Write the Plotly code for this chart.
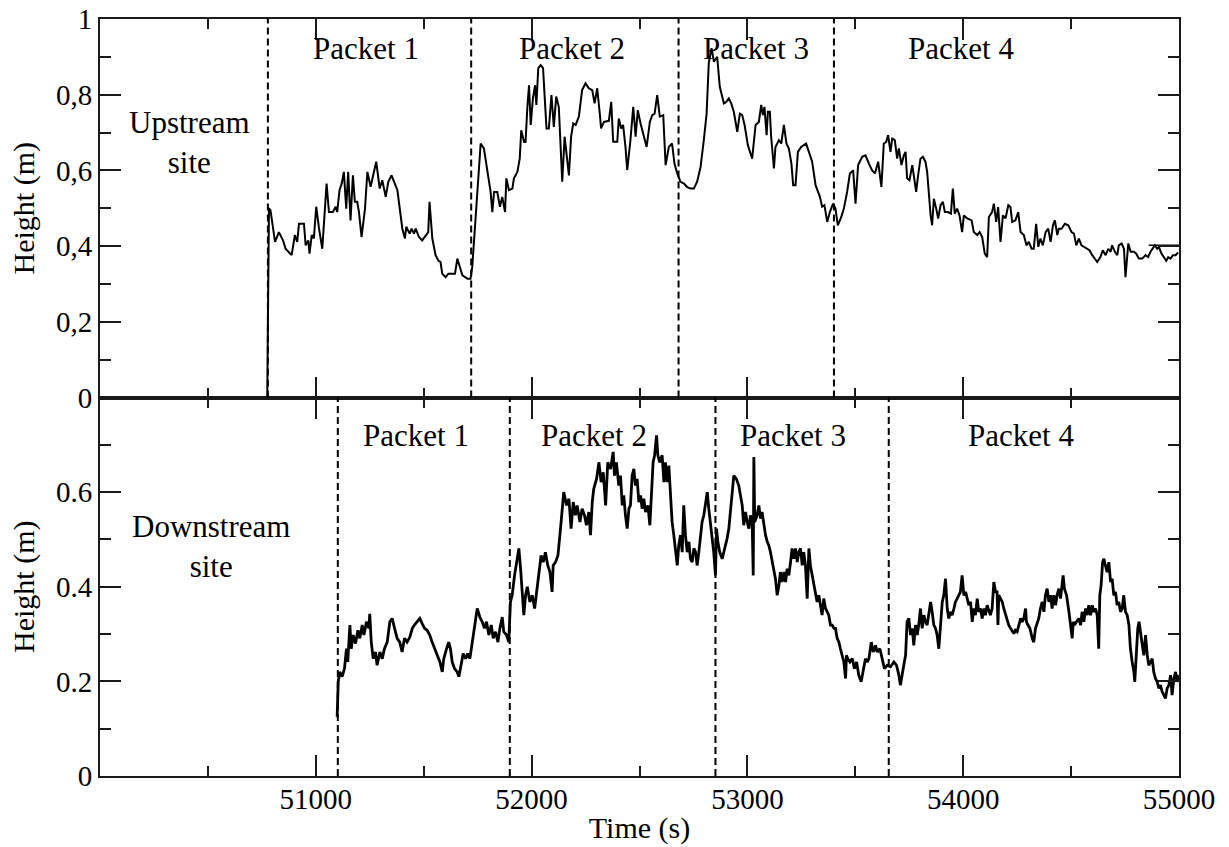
import plotly.graph_objects as go

# ---------------- data ----------------
# Upstream site: time (s) and water height (m)
up_time_a = [50775, 50783, 50790, 50811, 50829, 50848, 50860, 50888, 50903, 50914,
             50922, 50945, 50953, 50965, 50971, 50981, 50991, 51002, 51015, 51030,
             51050, 51061, 51079, 51092, 51099, 51110, 51120, 51130, 51141, 51150,
             51161, 51172, 51181, 51192, 51200, 51212, 51228, 51239, 51254, 51265,
             51280, 51296, 51308, 51324, 51336, 51351, 51367, 51378, 51401, 51413,
             51419, 51435, 51444, 51455, 51463, 51478, 51493, 51509, 51521, 51527,
             51540, 51555, 51568, 51578, 51586, 51602, 51614, 51633, 51645, 51656,
             51666, 51679, 51702, 51717, 51725, 51741, 51753, 51764, 51779, 51795,
             51810, 51818, 51826, 51841, 51853, 51864, 51877, 51883, 51895, 51911,
             51918, 51926, 51934, 51945, 51952, 51965, 51972, 51980, 51988, 51996,
             52006, 52016, 52022, 52031, 52042, 52053]
up_height_a = [0.000, 0.500, 0.495, 0.411, 0.437, 0.415, 0.393, 0.376, 0.429, 0.411,
               0.459, 0.459, 0.402, 0.415, 0.380, 0.429, 0.420, 0.504, 0.446, 0.393,
               0.565, 0.490, 0.490, 0.504, 0.490, 0.548, 0.565, 0.596, 0.499, 0.596,
               0.468, 0.587, 0.517, 0.517, 0.490, 0.424, 0.499, 0.596, 0.557, 0.587,
               0.623, 0.552, 0.574, 0.530, 0.570, 0.587, 0.561, 0.548, 0.446, 0.420,
               0.451, 0.433, 0.446, 0.433, 0.446, 0.424, 0.415, 0.429, 0.437, 0.517,
               0.420, 0.376, 0.362, 0.358, 0.327, 0.318, 0.327, 0.327, 0.327, 0.367,
               0.345, 0.323, 0.314, 0.314, 0.345, 0.482, 0.587, 0.671, 0.658, 0.596,
               0.543, 0.490, 0.543, 0.543, 0.504, 0.530, 0.490, 0.579, 0.548, 0.552,
               0.579, 0.587, 0.596, 0.631, 0.706, 0.675, 0.675, 0.764, 0.825, 0.720,
               0.790, 0.825, 0.773, 0.870, 0.878, 0.870]

up_time_b = [52069, 52080, 52092, 52103, 52114, 52126, 52142, 52153, 52162, 52173,
             52183, 52193, 52204, 52219, 52234, 52250, 52265, 52281, 52292, 52304,
             52316, 52322, 52335, 52358, 52369, 52378, 52397, 52404, 52415, 52424,
             52435, 52443, 52458, 52471, 52482, 52492, 52505, 52517, 52533, 52548,
             52559, 52570, 52582, 52594, 52610, 52621, 52636, 52651, 52662, 52675,
             52690, 52706, 52721, 52736, 52752, 52767, 52783, 52798, 52811, 52821,
             52834, 52845]
up_height_b = [0.711, 0.711, 0.799, 0.715, 0.795, 0.768, 0.570, 0.689, 0.645, 0.587,
               0.689, 0.724, 0.720, 0.742, 0.812, 0.830, 0.817, 0.812, 0.777, 0.817,
               0.750, 0.711, 0.728, 0.731, 0.781, 0.676, 0.676, 0.737, 0.711, 0.720,
               0.662, 0.601, 0.680, 0.768, 0.689, 0.759, 0.724, 0.698, 0.662, 0.728,
               0.746, 0.750, 0.799, 0.742, 0.746, 0.614, 0.662, 0.671, 0.618, 0.592,
               0.570, 0.565, 0.556, 0.552, 0.552, 0.570, 0.609, 0.680, 0.750, 0.883,
               0.923, 0.887]

up_time_c = [52860, 52872, 52891, 52902, 52914, 52925, 52937, 52953, 52965, 52976,
             52987, 53002, 53022, 53038, 53053, 53064, 53072, 53079, 53089, 53095,
             53104, 53110, 53123, 53130, 53146, 53157, 53169, 53181, 53192, 53204,
             53212, 53223, 53234, 53249, 53272, 53285, 53300, 53316, 53336, 53346,
             53357, 53370, 53382, 53397, 53408, 53419, 53435, 53447, 53462, 53475,
             53490, 53501, 53513, 53532]
up_height_c = [0.900, 0.821, 0.777, 0.781, 0.790, 0.777, 0.755, 0.702, 0.750, 0.746,
               0.720, 0.667, 0.631, 0.720, 0.728, 0.773, 0.746, 0.768, 0.693, 0.755,
               0.755, 0.689, 0.605, 0.662, 0.680, 0.671, 0.720, 0.671, 0.658, 0.618,
               0.561, 0.561, 0.649, 0.662, 0.671, 0.649, 0.623, 0.561, 0.530, 0.504,
               0.508, 0.464, 0.490, 0.512, 0.499, 0.455, 0.477, 0.499, 0.543, 0.592,
               0.600, 0.512, 0.614, 0.636]

up_time_d = [53547, 53563, 53578, 53591, 53606, 53621, 53632, 53643, 53652, 53663,
             53671, 53683, 53694, 53702, 53714, 53725, 53733, 53740, 53751, 53764,
             53776, 53782, 53791, 53802, 53813, 53825, 53833, 53841, 53849, 53856,
             53864, 53875, 53884, 53895, 53906, 53915, 53930, 53943, 53952, 53961,
             53972, 53983, 53995, 54003, 54019, 54039, 54049, 54065, 54076, 54088,
             54100, 54111, 54119, 54134, 54142, 54153, 54162, 54173, 54184, 54196,
             54209, 54219, 54227, 54242, 54255, 54266, 54281, 54293, 54304, 54317,
             54327, 54338, 54348, 54358, 54369, 54382, 54394, 54405, 54416, 54425,
             54436, 54443, 54456, 54471, 54487, 54502, 54513, 54524, 54536, 54548,
             54559, 54575, 54585, 54598, 54610, 54621, 54636, 54647, 54660, 54672,
             54683, 54690, 54703, 54714, 54721, 54734, 54745, 54752, 54765, 54776,
             54791, 54802, 54814, 54830, 54845, 54857, 54868, 54879, 54888, 54899,
             54907, 54919, 54930, 54941, 54950, 54961, 54972, 54984, 54996]
up_height_d = [0.640, 0.618, 0.600, 0.592, 0.623, 0.556, 0.671, 0.675, 0.693, 0.649,
               0.684, 0.680, 0.631, 0.658, 0.614, 0.640, 0.649, 0.579, 0.574, 0.614,
               0.561, 0.543, 0.587, 0.631, 0.636, 0.623, 0.596, 0.534, 0.481, 0.455,
               0.525, 0.499, 0.473, 0.508, 0.517, 0.490, 0.490, 0.486, 0.552, 0.486,
               0.499, 0.481, 0.437, 0.481, 0.473, 0.468, 0.437, 0.429, 0.437, 0.424,
               0.380, 0.371, 0.477, 0.490, 0.512, 0.464, 0.503, 0.411, 0.481, 0.473,
               0.508, 0.503, 0.464, 0.468, 0.490, 0.437, 0.429, 0.402, 0.411, 0.393,
               0.393, 0.459, 0.398, 0.420, 0.402, 0.437, 0.446, 0.411, 0.455, 0.468,
               0.429, 0.446, 0.446, 0.459, 0.455, 0.437, 0.433, 0.402, 0.420, 0.402,
               0.398, 0.393, 0.389, 0.376, 0.367, 0.358, 0.371, 0.389, 0.376, 0.393,
               0.385, 0.402, 0.385, 0.376, 0.402, 0.407, 0.393, 0.318, 0.407, 0.385,
               0.385, 0.380, 0.367, 0.367, 0.376, 0.371, 0.385, 0.393, 0.402, 0.393,
               0.398, 0.380, 0.371, 0.361, 0.371, 0.367, 0.376, 0.376, 0.383]

# Downstream site: time (s) and water height (m)
dn_time_a = [51099, 51104, 51111, 51122, 51133, 51142, 51148, 51158, 51164, 51173,
             51184, 51195, 51204, 51215, 51223, 51235, 51246, 51250, 51257, 51266,
             51277, 51284, 51297, 51308, 51318, 51331, 51343, 51354, 51365, 51377,
             51389, 51400, 51411, 51423, 51436, 51447, 51457, 51470, 51482, 51493,
             51504, 51516, 51528, 51539, 51550, 51562, 51575, 51586, 51593, 51606,
             51616, 51624, 51632, 51643, 51655, 51663, 51674, 51683, 51694, 51704,
             51714, 51725, 51735, 51748, 51760, 51771, 51782, 51791, 51802, 51813,
             51822, 51833, 51844, 51853, 51864, 51871, 51884, 51894, 51902, 51910,
             51921, 51930, 51941, 51949, 51956, 51964, 51972, 51980, 51992, 52003,
             52014, 52023, 52034, 52044, 52054, 52064, 52075, 52085, 52095, 52100,
             52111, 52122, 52134, 52142, 52149, 52162, 52173, 52183, 52193, 52203,
             52211, 52224, 52234, 52245, 52254, 52265, 52273, 52281, 52288, 52301,
             52312, 52322, 52332, 52343, 52353]
dn_height_a = [0.125, 0.199, 0.220, 0.210, 0.227, 0.269, 0.241, 0.319, 0.269, 0.298,
               0.280, 0.308, 0.291, 0.319, 0.298, 0.326, 0.312, 0.343, 0.283, 0.248,
               0.262, 0.234, 0.262, 0.248, 0.269, 0.283, 0.326, 0.333, 0.312, 0.291,
               0.283, 0.262, 0.291, 0.283, 0.294, 0.312, 0.319, 0.326, 0.333, 0.322,
               0.312, 0.308, 0.298, 0.283, 0.269, 0.255, 0.241, 0.220, 0.248, 0.269,
               0.283, 0.269, 0.241, 0.227, 0.220, 0.210, 0.234, 0.259, 0.248, 0.259,
               0.248, 0.283, 0.319, 0.354, 0.336, 0.326, 0.312, 0.326, 0.298, 0.319,
               0.291, 0.305, 0.283, 0.312, 0.336, 0.305, 0.298, 0.283, 0.368, 0.382,
               0.424, 0.452, 0.481, 0.438, 0.396, 0.340, 0.382, 0.400, 0.368, 0.382,
               0.354, 0.389, 0.424, 0.466, 0.452, 0.473, 0.445, 0.431, 0.389, 0.445,
               0.452, 0.466, 0.523, 0.572, 0.600, 0.572, 0.586, 0.523, 0.579, 0.551,
               0.572, 0.537, 0.565, 0.551, 0.530, 0.558, 0.509, 0.579, 0.607, 0.628,
               0.663, 0.621, 0.642, 0.572, 0.663]

dn_time_b = [52366, 52378, 52384, 52393, 52404, 52412, 52420, 52427, 52435, 52443,
             52451, 52458, 52466, 52474, 52481, 52489, 52497, 52505, 52512, 52520,
             52528, 52539, 52548, 52554, 52563, 52570, 52579, 52585, 52594, 52605,
             52613, 52620, 52628, 52636, 52644, 52651, 52659, 52667, 52675, 52682,
             52690, 52698, 52705, 52713, 52721, 52729, 52736, 52744, 52752, 52760,
             52767, 52775, 52783, 52790, 52798, 52806, 52814, 52821, 52829, 52837,
             52844, 52852, 52857, 52863, 52872, 52883, 52891, 52899, 52906, 52914,
             52922, 52929, 52937, 52949, 52960, 52968, 52976, 52983, 52991, 52999,
             53007, 53014, 53022, 53027, 53030, 53034, 53045, 53053, 53061, 53068,
             53076, 53084, 53092, 53099, 53107, 53115, 53122, 53130, 53138, 53146,
             53153, 53161, 53169, 53177, 53184, 53192, 53200, 53207, 53215, 53223,
             53231, 53238, 53246, 53254, 53261, 53269, 53277, 53285, 53292, 53300,
             53308, 53316, 53323, 53331, 53339, 53346, 53354, 53362, 53370, 53377,
             53385, 53393, 53401, 53408, 53416, 53424, 53431, 53439, 53447, 53455,
             53459, 53465, 53475, 53486, 53496, 53506, 53516, 53527, 53537, 53547,
             53555, 53563, 53574, 53583, 53594, 53601, 53614, 53624, 53635, 53648]
dn_height_b = [0.649, 0.685, 0.635, 0.663, 0.614, 0.635, 0.572, 0.593, 0.551, 0.523,
               0.565, 0.572, 0.635, 0.649, 0.614, 0.628, 0.579, 0.593, 0.565, 0.586,
               0.558, 0.572, 0.530, 0.593, 0.663, 0.678, 0.720, 0.678, 0.663, 0.678,
               0.621, 0.663, 0.621, 0.656, 0.600, 0.537, 0.509, 0.481, 0.445, 0.488,
               0.509, 0.473, 0.572, 0.509, 0.473, 0.495, 0.459, 0.452, 0.481, 0.473,
               0.445, 0.473, 0.509, 0.537, 0.551, 0.572, 0.600, 0.565, 0.537, 0.509,
               0.473, 0.424, 0.523, 0.495, 0.473, 0.459, 0.473, 0.488, 0.502, 0.523,
               0.565, 0.600, 0.635, 0.628, 0.614, 0.593, 0.572, 0.530, 0.558, 0.537,
               0.523, 0.551, 0.537, 0.424, 0.674, 0.537, 0.551, 0.572, 0.544, 0.558,
               0.530, 0.509, 0.495, 0.488, 0.473, 0.452, 0.438, 0.417, 0.382, 0.403,
               0.431, 0.410, 0.431, 0.410, 0.438, 0.424, 0.452, 0.481, 0.459, 0.481,
               0.452, 0.473, 0.481, 0.445, 0.473, 0.445, 0.375, 0.481, 0.445, 0.424,
               0.410, 0.389, 0.368, 0.382, 0.354, 0.340, 0.375, 0.354, 0.347, 0.340,
               0.319, 0.319, 0.312, 0.312, 0.291, 0.283, 0.269, 0.255, 0.241, 0.206,
               0.255, 0.248, 0.241, 0.248, 0.227, 0.241, 0.213, 0.199, 0.220, 0.248,
               0.241, 0.248, 0.283, 0.262, 0.276, 0.262, 0.269, 0.248, 0.227, 0.234]

dn_time_c = [53663, 53679, 53691, 53702, 53709, 53722, 53733, 53740, 53748, 53756,
             53764, 53771, 53779, 53787, 53794, 53802, 53810, 53818, 53825, 53833,
             53841, 53849, 53856, 53864, 53872, 53879, 53887, 53895, 53903, 53910,
             53918, 53926, 53933, 53941, 53949, 53957, 53964, 53972, 53980, 53987,
             53995, 54003, 54011, 54018, 54026, 54034, 54042, 54049, 54057, 54065,
             54072, 54080, 54088, 54096, 54103, 54111, 54119, 54126, 54134, 54142,
             54150, 54157, 54161, 54165, 54173, 54181, 54188, 54196, 54204, 54211,
             54219, 54227, 54235, 54242, 54250, 54258, 54266, 54273, 54281, 54289,
             54293, 54300, 54309, 54320, 54327, 54335, 54343, 54350, 54358, 54366,
             54374, 54381, 54389, 54397, 54405, 54412, 54420, 54428, 54435, 54443,
             54451, 54459, 54463, 54469, 54479, 54490, 54497, 54505, 54510, 54516,
             54525, 54536, 54544, 54551, 54559, 54567, 54575, 54582, 54590, 54598,
             54605, 54613, 54621, 54628, 54633, 54639, 54646, 54652, 54659, 54667,
             54675, 54683, 54690, 54698, 54706, 54713, 54721, 54729, 54737, 54744,
             54752, 54760, 54768, 54775, 54783, 54791, 54795, 54803, 54809, 54815,
             54822, 54830, 54837, 54845, 54853, 54860, 54868, 54876, 54883, 54891,
             54899, 54907, 54914, 54922, 54930, 54937, 54945, 54953, 54961, 54968,
             54976, 54984, 54991, 54999]
dn_height_c = [0.231, 0.241, 0.234, 0.213, 0.192, 0.227, 0.255, 0.326, 0.333, 0.298,
               0.312, 0.276, 0.319, 0.298, 0.319, 0.354, 0.312, 0.340, 0.326, 0.319,
               0.340, 0.368, 0.347, 0.319, 0.312, 0.298, 0.269, 0.312, 0.368, 0.382,
               0.417, 0.354, 0.333, 0.347, 0.340, 0.354, 0.368, 0.375, 0.382, 0.389,
               0.424, 0.382, 0.389, 0.375, 0.361, 0.368, 0.326, 0.354, 0.340, 0.375,
               0.347, 0.354, 0.333, 0.354, 0.340, 0.361, 0.347, 0.340, 0.354, 0.410,
               0.389, 0.389, 0.319, 0.382, 0.375, 0.368, 0.354, 0.340, 0.326, 0.319,
               0.312, 0.305, 0.301, 0.308, 0.305, 0.319, 0.333, 0.326, 0.333, 0.354,
               0.326, 0.319, 0.312, 0.291, 0.283, 0.312, 0.326, 0.333, 0.354, 0.368,
               0.347, 0.382, 0.396, 0.368, 0.382, 0.354, 0.382, 0.361, 0.382, 0.396,
               0.375, 0.410, 0.424, 0.396, 0.382, 0.347, 0.319, 0.291, 0.326, 0.319,
               0.326, 0.333, 0.319, 0.347, 0.326, 0.354, 0.340, 0.361, 0.340, 0.361,
               0.347, 0.354, 0.340, 0.269, 0.382, 0.403, 0.452, 0.459, 0.445, 0.431,
               0.452, 0.410, 0.417, 0.382, 0.389, 0.361, 0.368, 0.347, 0.354, 0.382,
               0.347, 0.340, 0.319, 0.269, 0.241, 0.220, 0.199, 0.255, 0.312, 0.326,
               0.298, 0.276, 0.255, 0.298, 0.255, 0.234, 0.241, 0.248, 0.220, 0.206,
               0.199, 0.185, 0.192, 0.178, 0.171, 0.164, 0.185, 0.192, 0.213, 0.171,
               0.206, 0.220, 0.199, 0.213]

# short horizontal end segments visible at the right edge
up_end_time = [54860, 55000]
up_end_height = [0.402, 0.402]
dn_end_time = [54907, 55000]
dn_end_height = [0.201, 0.201]

# packet boundaries (s)
up_bounds = [50778, 51720, 52681, 53401]
dn_bounds = [51102, 51899, 52852, 53655]

# packet label positions (s)
packet_names = ["Packet 1", "Packet 2", "Packet 3", "Packet 4"]
up_label_x = [51234, 52189, 53042, 53992]
dn_label_x = [51462, 52291, 53213, 54270]

x_ticks = [51000, 52000, 53000, 54000, 55000]
x_minor = [50500, 51500, 52500, 53500, 54500]
up_yticks = [0, 0.2, 0.4, 0.6, 0.8, 1.0]
up_yticktext = ["0", "0,2", "0,4", "0,6", "0,8", "1"]
up_yminor = [0.1, 0.3, 0.5, 0.7, 0.9]
dn_yticks = [0, 0.2, 0.4, 0.6]
dn_yticktext = ["0", "0.2", "0.4", "0.6"]
dn_yminor = [0.1, 0.3, 0.5, 0.7]

# ---------------- figure ----------------
up_t = up_time_a + up_time_b + up_time_c + up_time_d
up_h = up_height_a + up_height_b + up_height_c + up_height_d
dn_t = dn_time_a + dn_time_b + dn_time_c
dn_h = dn_height_a + dn_height_b + dn_height_c
n_up = min(len(up_t), len(up_h))
n_dn = min(len(dn_t), len(dn_h))

FONT = "Liberation Serif"
AX = "#1a1a1a"
TXT = dict(family=FONT, size=31, color="black")

fig = go.Figure()
fig.add_trace(go.Scatter(x=up_t[:n_up], y=up_h[:n_up], mode="lines",
                         line=dict(color="black", width=2), xaxis="x", yaxis="y",
                         showlegend=False, hoverinfo="skip"))
fig.add_trace(go.Scatter(x=up_end_time, y=up_end_height, mode="lines",
                         line=dict(color="black", width=1.5), xaxis="x", yaxis="y",
                         showlegend=False, hoverinfo="skip"))
fig.add_trace(go.Scatter(x=dn_t[:n_dn], y=dn_h[:n_dn], mode="lines",
                         line=dict(color="black", width=2.8), xaxis="x2", yaxis="y2",
                         showlegend=False, hoverinfo="skip"))
fig.add_trace(go.Scatter(x=dn_end_time, y=dn_end_height, mode="lines",
                         line=dict(color="black", width=1.5), xaxis="x2", yaxis="y2",
                         showlegend=False, hoverinfo="skip"))

shapes = []
for xb in up_bounds:
    shapes.append(dict(type="line", xref="x", yref="y domain", x0=xb, x1=xb, y0=0, y1=1,
                       line=dict(color="black", width=2, dash="7px,4px")))
for xb in dn_bounds:
    shapes.append(dict(type="line", xref="x2", yref="y2 domain", x0=xb, x1=xb, y0=0, y1=1,
                       line=dict(color="black", width=2, dash="7px,4px")))

annotations = []
for name, xl in zip(packet_names, up_label_x):
    annotations.append(dict(x=xl, y=0.922, xref="x", yref="y", text=name, showarrow=False, font=TXT))
for name, xl in zip(packet_names, dn_label_x):
    annotations.append(dict(x=xl, y=0.72, xref="x2", yref="y2", text=name, showarrow=False, font=TXT))
annotations += [
    dict(x=50415, y=0.675, xref="x", yref="y", text="Upstream<br>site", showarrow=False, font=TXT),
    dict(x=50515, y=0.485, xref="x2", yref="y2", text="Downstream<br>site", showarrow=False, font=TXT),
]

common = dict(showline=True, linecolor=AX, linewidth=2, mirror="allticks", ticks="inside",
              ticklen=21, tickwidth=2, tickcolor=AX, showgrid=False, zeroline=False,
              automargin=False, tickfont=dict(family=FONT, size=29, color="black"))

fig.update_layout(
    width=1229, height=847,
    margin=dict(l=100, r=50, t=19, b=71),
    paper_bgcolor="white", plot_bgcolor="white",
    showlegend=False,
    shapes=shapes, annotations=annotations,
    xaxis=dict(domain=[0, 1], anchor="y", range=[50000, 55000], tickmode="array",
               tickvals=x_ticks, showticklabels=False,
               minor=dict(tickvals=x_minor, ticklen=10, tickwidth=2, ticks="inside", tickcolor=AX),
               **common),
    yaxis=dict(domain=[0.5, 1], anchor="x", range=[0, 1], tickmode="array",
               tickvals=up_yticks, ticktext=up_yticktext,
               minor=dict(tickvals=up_yminor, ticklen=11, tickwidth=2, ticks="inside", tickcolor=AX),
               title=dict(text="Height (m)", font=dict(family=FONT, size=30, color="black"), standoff=12),
               **common),
    xaxis2=dict(domain=[0, 1], anchor="y2", range=[50000, 55000], matches="x", tickmode="array",
                tickvals=x_ticks, ticktext=[str(v) for v in x_ticks], ticklabelstandoff=-4,
                minor=dict(tickvals=x_minor, ticklen=10, tickwidth=2, ticks="inside", tickcolor=AX),
                title=dict(text="Time (s)", font=dict(family=FONT, size=30, color="black"), standoff=3),
                **common),
    yaxis2=dict(domain=[0, 0.5], anchor="x2", range=[0, 0.8], tickmode="array",
                tickvals=dn_yticks, ticktext=dn_yticktext,
                minor=dict(tickvals=dn_yminor, ticklen=11, tickwidth=2, ticks="inside", tickcolor=AX),
                title=dict(text="Height (m)", font=dict(family=FONT, size=30, color="black"), standoff=12),
                **common),
)

fig.write_html("out.html")
